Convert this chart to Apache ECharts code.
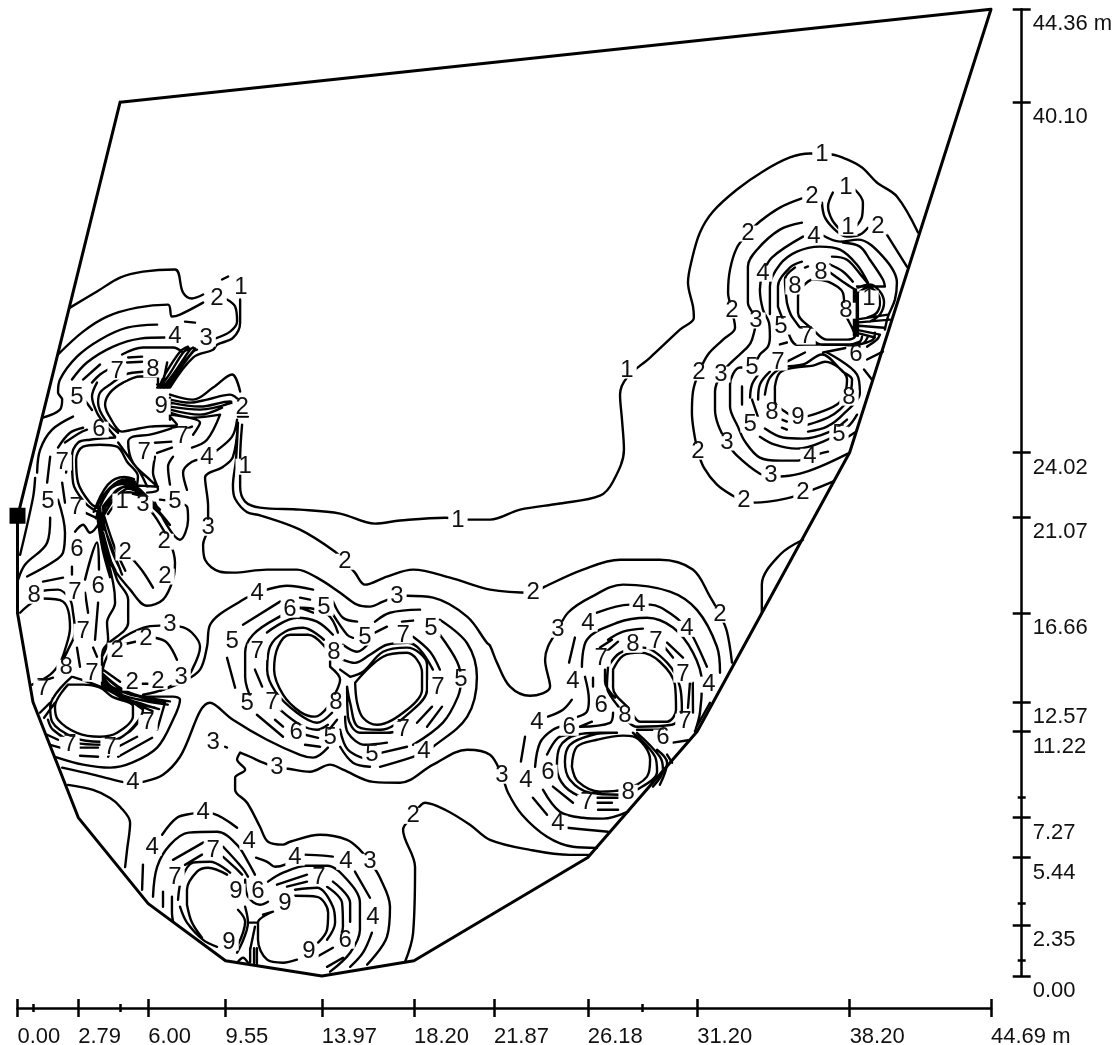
<!DOCTYPE html>
<html><head><meta charset="utf-8">
<style>html,body{margin:0;padding:0;background:#fff}#c{width:1118px;height:1045px}</style>
<script src="https://cdn.jsdelivr.net/npm/echarts@6/dist/echarts.min.js"></script>
</head><body><div id="c"></div>
<script>
// All coordinates are metres on the plot's x / y scales.
const xMax = 44.69, yMax = 44.36;
const xMajorTicks = [0,2.79,6,9.55,13.97,18.20,21.87,26.18,31.20,38.20,44.69];
const xMinorTicks = [0.71,4.71,28.70];
const yMajorTicks = [0,2.35,5.44,7.27,11.22,12.57,16.66,21.07,24.02,40.10,44.36];
const yMinorTicks = [0.70,3.32,8.22];
const boundary = [[4.71,40.10,44.69,44.36,38.20,24.02,31.20,11.22,26.18,5.44,18.20,0.70,13.97,0,9.55,0.70,6,3.32,2.79,7.27,0.71,12.57,0,16.66,0,21.07,4.71,40.10]];
const stationMark = [[0,21.12]];

const contoursNE = [
[41.34,34.12,40.37,35.77,39.45,36.41,38.77,37.10,38.08,37.47,37.39,37.70,36.38,37.74,35.46,37.56,34.22,36.92,33.03,36.09,31.93,35.08,31.33,34.12,30.96,32.88,30.78,31.82,31.01,30.72,31.05,30.21,30.41,29.66,29.04,28.38,27.98,27.46,27.66,26.68,27.75,25.53,27.84,24.15,27.34,22.69,26.74,22.04,24.90,21.68,23.07,21.40,21.69,20.94,20.77,20.94,19.63,21.03,17.56,20.90,16.41,20.76,14.81,21.22,12.97,21.40,11.13,21.49,10.45,21.77,10.22,22.46,10.22,23.70,10.31,25.30],
[38.44,36.09,38.81,35.49,38.77,34.85,38.44,34.34],
[37.43,35.95,37.21,35.31,37.39,34.71,37.76,34.25],
[36.93,35.49,37.07,34.80,37.62,34.16,38.08,33.93,38.67,34.02,39.04,34.34],
[39.91,34.02,40.83,32.55],
[36.01,35.68,35.0,35.26,34.08,34.62,33.53,34.07,33.03,33.43,32.71,32.42,32.62,31.36,32.80,30.54,32.94,29.75,32.39,29.2,31.70,28.52,31.28,27.69,31.01,26.82,30.96,25.85,31.05,24.98,31.24,24.06,31.51,23.33,32.11,22.55,32.84,22.04,33.35,21.81,33.85,21.72,35.46,21.95,36.06,22.18,36.52,22.32,37.43,22.69],
[36.01,34.57,35,34.25,33.95,33.33,33.53,32.55,33.53,30.90,33.90,30.08,33.72,29.20,33.53,28.88,32.80,28.19,32.29,27.60,32.02,26.82,32.02,25.99,32.16,25.30,32.57,24.48,33.03,23.88,34.08,23.05,34.59,22.96,35.0,22.92,35.92,23.05,36.84,23.37,38.12,23.97],
[36.06,33.93,34.63,32.97,34.22,32.23,34.08,31.50,34.22,30.58,34.50,29.98,34.54,29.34,34.45,28.88,34.08,28.52,33.72,27.92,33.17,27.92,32.71,27.14,32.71,26.13,33.07,25.21,33.40,24.52,34.08,23.79,35,23.65,35.83,23.65,36.38,23.83,36.84,23.97,37.21,24.06],
[36.98,33.98,37.76,33.70,38.58,33.79,39.73,33.01,40.37,31.82,40.28,31.04,39.96,30.26,39.82,29.66],
[37.89,33.66,38.67,33.47,39.13,32.87,39.73,31.96,39.82,31.64,38.54,31.64],
[34.54,30.38,34.54,31.64,35,32.65,35.78,33.24,36.84,33.47,37.76,33.33,38.54,32.64,39.04,31.82],
[34.91,30.72,34.91,31.64,35.46,32.51,36.01,32.78],
[37.39,33.01,38.08,32.87,38.77,32.10,39.0,31.82],
[35.32,30.90,35.23,31.96,35.69,32.51],[36.15,32.51,36.29,32.56],
[37.30,32.65,37.89,32.33,38.35,31.86],
[37.30,32.28,37.89,31.86,38.44,31.50],
[36.01,31.59,36.52,31.96,37.21,31.86,37.89,31.36,37.99,30.44,38.35,29.66,38.44,29.34,38.08,29.20,37.16,29.20,36.52,29.66,35.83,30.44,35.83,31.18,36.01,31.59],
[35.32,30.90,35.55,30.26,36.24,29.43,36.93,28.97,38.08,28.97,38.67,29.11,38.77,29.34],
[34.91,30.72,35.23,29.93,35.78,28.97,36.84,28.98,37.62,28.98,38.77,29.02,39.04,29.34],
[36.98,28.61,38.67,28.98,39.27,29.20,39.36,29.52],
[39,28.88,39.45,29.2,39.59,29.43],
[39,28.29,39.73,28.65],
[38.67,31.41,39.04,31.59,39.45,31.36,39.59,30.90,39.45,30.44,39,30.21],
[38.58,31.59,39.13,31.73,39.59,31.41,39.78,30.90,39.59,30.35,39.13,30.03],
[38.49,31.50,38.49,29.38],[38.58,31.36,38.58,29.38],[38.40,31.50,38.40,29.38],
[38.49,30.12,39.96,30.35],[38.49,29.98,40.05,30.12],[38.49,29.85,39.78,29.75],[38.49,29.66,39.59,29.43],[38.49,29.52,39.36,29.30],
[34.77,27.05,35,27.69,35.69,27.92,36.52,28.01,37.07,28.19,38.08,27.37,37.99,26.77,37.62,26.22,36.52,25.76,35.83,25.62,35.23,25.90,34.77,26.36,34.77,27.05],
[34.31,26.68,34.54,27.46,35.14,27.92,36.06,28.06,36.93,28.52,37.89,27.73,38.31,27.37,38.17,26.54,37.76,26.0,37.21,25.63,36.29,25.30],
[34,26.45,34.08,27.14,34.54,27.73],
[35.32,28.19,36.15,28.61],
[37.16,28.61,38.54,27.60,38.67,26.77,37.89,25.76,37.16,25.21,36.29,24.98],
[33.63,26.54,33.72,27.14,34.08,27.69],
[33.26,27.05,33.26,26.22],
[34.31,25.12,35.14,24.71,36.06,24.66,37.30,24.98,38.08,25.53],
[34.08,24.75,34.77,24.38,35.78,24.20,36.98,24.52,38.12,25.21,38.54,25.76],
[35.09,25.16,35.32,25.07],[35.09,25.53,35.32,25.44],
[38.08,24.71,38.44,24.94],[35,28.98,35.32,29.07],
[33.72,26.45,34,25.63],[38.86,27.83,39.22,27.37],
[36.06,20.02,35,19.33,34.17,17.96,34.17,16.66]
];

const contoursNW = [
[2.41,30.67,3.65,31.41,4.71,32.05,5.76,32.32,7.23,32.42,7.60,31.36,8.01,31.09,8.52,31.27],
[9.39,31.96,9.67,32.10],
[10.22,31.04,10.22,29.98,9.89,29.28,9.16,28.97,8.98,28.74,8.06,28.38,7,27.0],
[9.62,31.04,9.99,30.72,10.08,30.03,9.76,29.57,9.07,29.25],
[1.86,28.52,3.01,29.57,4.11,30.26,5.49,30.67,6.91,30.81,7.09,30.26,7.46,30.35,8.52,30.90],
[1.17,25.62,1.95,25.99,2.05,26.45,1.86,26.77,1.95,27.37,2.73,28.42,3.79,29.20,5.03,29.75,6.41,29.89],
[7.69,30.03,8.15,29.98],
[2.50,27.37,3.19,28.15,4.39,28.88,5.63,29.25,6.77,29.30],
[3.01,27.37,3.79,28.06],[4.80,28.52,5.76,28.84,7.14,28.84,7.60,28.61],
[3.42,27.23,3.79,27.60,4.16,27.83],
[5.08,28.38,5.72,28.42],[5.03,28.15,5.72,28.19],
[6.41,27.51,5.63,27.51,4.85,27.23,4.25,26.77,4.02,26.22,4.25,25.62,4.80,24.98,5.30,25.07,6.08,25.21,7.32,25.30,7.0,25.67],
[5.76,27.73,4.94,27.60,4.25,27.14,3.79,26.77,3.70,26.31,4.02,25.53,4.62,24.93],
[3.65,27.23,3.42,26.59,3.65,25.85,4.03,25.30,4.48,24.75],
[3.01,26.54,3.42,25.97],
[6.50,27.0,6.77,27.60,7.46,28.65,7.83,28.88],
[6.68,27.0,7.23,27.73,7.92,28.74,8.06,28.84],
[6.87,27.0,7.37,27.73,8.06,28.65,8.24,28.74],
[6.55,27,7.0,27.65,7.6,28.6,7.9,28.8],[6.75,27,7.3,27.75,8.0,28.6,8.15,28.8],
[6.45,28.15,6.45,27.0],[6.64,27,6.87,28.15],
[6.41,27,7.0,27],[6.41,27.14,7.0,27.14],
[7.0,26.68,8.06,26.45,8.98,27.0,9.85,27.60,10.22,26.82],
[7,26.45,7.92,26.31,8.70,26.45,9.76,26.68,10.22,26.36],
[7,26.31,8.38,26.13,9.76,26.36,10.08,25.99],
[7,26.13,8.38,25.99,9.85,26.31],
[7,25.99,8.38,25.76,9.39,26.08],
[7,25.85,8.06,25.62,9.30,25.76,8.70,24.61,8.01,24.25],
[7,25.76,8.38,25.39,8.06,24.84],
[7,26.54,7,25.53],
[10.12,25.67,10.58,25.67],
[10.12,25.39,10.03,23.70,9.89,22.50,9.99,21.90,10.54,21.28,11.13,21.14,12.97,20.48,14.58,19.47,15.03,19.01,15.49,18.51,15.95,17.96,16.96,18.33,18.16,18.65,19.86,18.28,21.69,17.73,23.67,17.59,24.21,17.87,25.96,18.65,27.66,19.10,29.49,19.10,31.0,18.65,31.79,17.41,32.25,16.58,32.57,15.80,32.80,14.38],
[10.12,25.39,9.89,23.82,9.44,23.37,8.61,22.87,8.75,21.54,8.75,20.57,8.52,19.79,8.61,19.10,9.30,18.55,9.89,18.51,11.45,18.65,12.83,18.65,13.75,18.28,14.81,17.59,15.59,17.04,16.18,16.95,16.78,17.18,17.42,17.41,17.88,17.45,19.08,17.36,20.64,16.49,21.55,15.29,21.69,15.16,22.01,14.38,22.61,13.28,23.53,12.86,24.45,13.28,24.22,14.51,24.35,15.11,24.81,15.89,25.27,16.67,26.28,17.36,27.80,17.96,29.95,17.64,31.19,16.80,32.11,15.11,32.25,13.92],
[10.08,25.53,9.85,24.75,9.07,24.05,8.70,23.79,8.01,23.60,7.60,23.10,7.78,22.31],
[7.14,23.83,6.91,23.37,7.0,22.55],
[6.41,24.0,7.09,24.25],[6.31,24.47,7.09,24.52],[7.69,25.07,8.01,25.21],
[7.32,25.21,6.08,24.84,5.30,24.75,5.08,24.52,5.30,23.56,6.08,22.77,6.45,22.45,5.63,22.50],
[6.31,23.83,6.22,23.10,6.45,22.32,5.95,22.18],
[5.49,22.55,5.53,22.92,5.03,23.60,4.57,24.29,3.79,24.38,3.01,24.29,2.69,23.70,2.78,22.64,3.33,21.72,3.79,21.40],
[4.48,24.71,3.33,24.61,2.78,24.48,2.50,23.83,2.55,22.64,3.10,21.72,3.65,21.31],
[4.62,24.48,5.26,23.60,5.63,23.10,5.95,22.46],
[2.18,24.48,2.87,24.93,3.19,25.07],[1.86,24.25,2.41,24.93,3.01,25.16],
[0.90,23.10,1.04,24.15,1.59,25.07,2.55,25.67],
[1.50,23.83,1.36,22.64],[2.05,22.64,2.18,21.72],[2.32,23.83,2.23,23.10],
[3.79,21.56,4.39,22.50,5.03,22.69,5.49,22.55],
[3.93,21.56,4.48,22.18,5.03,22.50,5.63,22.50],
[3.65,21.56,4.25,22.41,4.94,22.78,5.39,22.69],
[4.07,21.56,4.62,22.09,5.08,22.36,5.76,22.09],
[3.5,21.3,4.15,22.55,4.9,22.9,5.35,22.8],[3.6,21.0,4.2,22.3,5.0,22.6,5.6,22.35],[4.0,21.2,4.55,22.0,5.1,22.2,5.85,21.95],[3.9,21.2,4.5,22.25,5.05,22.45,5.7,22.2],[4.15,21.2,4.7,21.9,5.15,22.15,5.95,21.85],
[3.79,21.56,3.88,20.48],[3.70,21.56,3.79,20.48],[3.93,21.56,3.98,20.48],
[3.75,21.2,4.1,19.5,4.5,18.6],[3.85,21.2,4.3,19.6,4.7,18.7],[3.95,21.2,4.45,19.7,4.95,18.6],[3.65,21.2,3.9,19.6,4.25,18.3],
[5.30,22.36,6.68,21.08],[5.63,22.32,6.54,21.40],[5.76,22.09,6.77,20.94],[6.08,21.72,6.68,21.08],[5.5,22.3,6.3,21.5,6.9,20.8],[5.85,21.95,6.5,21.3,7.0,20.7],
[6.31,21.72,7.46,20.02,7.83,20.94,7.78,21.54,6.54,21.86],
[3.88,20.48,4.25,18.97,5.17,17.73,5.95,16.99,6.68,17.27,7.14,18.19,7.23,18.97,7.0,19.89,6.41,20.94,6.08,21.40],
[5.30,19.11,5.76,18.55,6.22,17.82],
[3.93,20.34,4.57,18.19,5.08,17.27,5.08,16.21,3.93,14.97,3.88,14.51],
[3.79,20.48,4.39,18.05,4.48,17.13,4.11,16.21,4.16,15.43,3.88,14.65],
[3.70,20.94,4.16,18.65],[4.02,20.48,4.80,18.42],
[0.81,22.86,0.71,21.94,0.12,19.33],
[1.50,21.03,1.36,19.88,0.35,18.88,0.03,18.19],
[1.86,21.86,2.18,20.34,2.09,19.43,1.59,18.97,0.44,18.33],
[2.64,20.39,3.01,20.71,3.33,20.34,3.79,20.85],[3.10,21.26,3.79,20.94],
[2.50,18.78,2.50,18.42],
[3.10,18.19,3.65,19.89,3.74,18.65],
[1.17,18.10,2.09,18.28],
[1.17,17.68,1.86,17.73,2.41,17.27,2.55,16.67,2.64,15.80,2.32,14.97,2.09,14.51],
[0.12,16.67,1.13,17.32,2.09,17.18,2.41,15.98,2.18,14.97,1.95,14.38,1.50,13.83,0.67,13.37],
[3.10,17.59,3.24,16.67],[3.70,17.13,3.56,15.43],[2.73,15.07,2.87,14.19],[3.47,15.07,3.65,14.65],
[0.67,13.37,1.63,13.69],
[2.32,13.37,1.72,12.36,1.86,11.76,2.73,11.16,3.79,10.98,4.57,11.16,5.30,11.92,5.30,12.38,4.34,12.82,3.79,13.23,3.01,13.37,2.32,13.37],
[2.50,13.74,1.50,12.36,1.59,11.67,2.64,10.93,3.79,10.75,4.71,10.93,5.40,11.53,5.76,12.22,4.94,12.68,4.11,13.14,3.19,13.51,2.50,13.74],
[1.40,11.76,1.63,11.30,2.64,10.71,3.93,10.61,5.08,11.17,5.63,11.76],
[1.03,12.08,1.50,12.54],[1.22,11.85,1.72,12.54],
[6.77,12.54,6.41,11.30],[5.76,12.23,4.48,13.14],
[3.93,13.72,4.39,13.23,5.76,12.82,7.14,12.82,7.46,12.68,7.14,11.76,6.41,10.48,5.26,9.79,4.25,9.56,3.01,9.70,1.72,10.06],
[3.88,13.37,4.94,12.68,6.31,12.31],[3.93,13.83,4.94,13.05,6.77,12.54],[3.88,14.74,3.88,13.37],
[3.88,13.7,4.6,13.0,5.5,12.7,6.9,12.45],[3.88,13.55,4.6,12.9,5.5,12.55,6.5,12.25],[3.9,13.45,4.7,12.8,5.5,12.45,6.2,12.15],[3.88,13.9,4.75,13.2,5.6,12.85,7.0,12.6],
[3.93,14.05,4.71,13.50],
[8.06,14.15,8.38,15.11,8.01,15.75,7.46,16.03,6.54,16.08,5.76,15.98,4.71,15.43,4.11,14.65,3.88,13.92],
[8.06,14.15,7.78,13.73,6.68,13.14,5.76,12.91],
[4.80,15.20,5.40,15.34],[6.31,15.52,6.87,15.29,7.32,14.51],[5.72,13.41,6.0,13.41],
[2.05,9.56,3.47,9.24,4.80,8.91,5.30,8.87,5.76,8.91,6.68,9.24,7.46,10.06,8.84,12.54,9.89,11.76,11.45,10.84,12.97,10.15,13.57,10.02,14.25,10.48],
[2.32,8.77,3.47,8.54,4.25,8.17,4.71,7.77,5.17,7.03,5.03,5.79,4.94,5.0],
[1.36,11.07,1.86,10.84],[2.87,10.48,3.70,10.48],[2.87,10.11,3.70,10.06],[4.16,10.06,4.48,10.71],[4.62,10.52,5.49,10.98],[4.62,10.06,6.18,10.93],[1.50,10.61,1.95,10.48],
[9.53,10.52,9.62,10.48]
];

const contoursCentre = [
[6.54,13.09,7.60,13.51,8.38,14.06,8.70,15.11,8.84,16.12,10.35,17.27,11.0,17.54,11.45,17.73,12.37,17.91,13.57,17.73],
[14.49,17.18,14.94,16.44,15.59,16.26],[14.49,16.58,15.13,15.66,15.40,15.52],
[14.35,14.19,14.81,13.59,14.71,13.23,14.25,12.36,13.66,11.90,12.97,12.13,12.19,12.91,11.78,14.06,11.96,15.11,12.51,15.66,13.34,15.66,14.03,15.20,14.35,14.51,14.35,14.19],
[14.07,15.43,13.11,15.98,12.28,15.80,11.59,15.11,11.46,14.06,11.84,13.05,12.83,12.08,13.75,11.62,14.44,12.08],
[14.48,15.66,13.75,16.26,12.83,16.44,11.45,15.76],[10.90,14.06,11.23,13.28],[12.05,12.22,12.97,11.53,13.75,11.30,14.25,11.53],
[14.71,15.76,14.25,16.58,13.11,16.90,11.87,16.40,10.81,15.66,10.45,14.84,10.45,13.73,10.81,12.54],
[12.05,17.18,10.35,16.12],[9.62,14.60,9.99,13.23],[10.99,11.99,12.19,10.98],[11.82,11.76,12.19,11.44],
[13.20,11.07,13.80,10.93],[13.20,10.61,13.89,10.52],[14.67,11.76,14.12,11.07],
[12.97,17.36,13.43,17.27],[12.97,16.90,13.57,16.67],
[15.50,13.46,16.78,14.65,17.88,14.83,18.57,13.92,18.57,13.14,17.88,12.22,16.50,11.53,15.86,11.85,15.59,12.54,15.50,13.46],
[15.27,13.73,15.86,13.96,16.78,14.88,17.88,15.07,18.80,14.29,18.80,13.14,18.16,12.22,16.64,11.30,15.63,11.44,15.27,12.54,15.13,13.28],
[14.81,14.06,15.27,13.73],
[14.94,14.51,15.49,14.37,16.18,14.74,16.96,15.20,17.93,15.29,18.48,14.97,19.07,14.06],
[19.03,12.36,18.34,11.62],[15.13,13.23,15.17,11.90,15.72,11.16,16.96,11.16,17.70,11.30],
[14.94,15.20,15.59,14.88,16.18,15.34],[16.41,15.76,16.96,16.03],
[18.16,15.57,18.94,14.88,19.39,14.06],[19.49,12.36,18.80,11.44],
[15.04,11.90,15.17,11.16,15.95,10.61,16.96,10.71],
[17.65,16.26,18.16,16.31],[16.41,16.26,17.10,16.67,18.48,16.81],
[19.39,15.66,20.18,14.42,20.36,13.59,20.22,12.82,19.53,11.63,18.16,10.61],
[14.81,11.30,15.17,10.38,16.05,9.93],[16.73,10.25,17.88,10.52],
[19.39,16.35,20.64,15.27,21.09,13.72,20.64,11.89,19.08,10.52,18.66,10.29,18.16,10.06,16.64,9.60],
[14.81,10.52,15.40,9.79,16.18,9.60],
[10.22,10.25,10.08,9.93,10.45,9.47,9.99,9.10,9.99,8.55,10.54,7.95,11.13,6.85,11.50,6.16,12.19,6.03,12.51,6.16,13.89,6.48,15.13,6.25,15.72,5.79,16.18,5.24,16.64,4.51,17.10,3.18,16.96,1.80,16.05,0.52],
[10.22,10.25,10.68,10.06,11.27,9.79,11.91,9.56,12.42,9.51,13.43,9.37,14.35,9.70,14.94,9.47,16.33,8.91,17.56,8.87,19.08,9.70,20.64,10.38,21.69,10.15,22.24,9.19,22.52,8.41,23.16,7.40,24.31,6.39,25.50,5.93,26.6,5.88],
[17.79,0.64,18.16,1.97,18.25,5.0,17.70,6.71,18.16,7.35,18.71,7.95,19.63,7.63,20.77,6.94,21.69,6.25,23.53,5.79,25.36,5.56,26.28,5.56]
];

const contoursSE = [
[27.34,14.06,27.80,14.70,28.58,14.84,29.49,14.42,30.18,13.37,30.23,12.22,29.82,11.67,28.58,11.67,28.12,12.22,27.34,13.23,27.34,14.06],
[27.11,14.19,27.66,14.83,28.72,15.07,29.82,14.38,30.41,13.28,30.50,12.22,30.04,11.53,28.44,11.44,27.52,12.45,27.06,13.28,27.11,14.19],
[28.44,11.30,29.63,11.30],
[26.88,14.75,27.57,15.34],[26.97,14.06,26.97,13.51,27.43,12.77],[26.42,13.69,26.42,13.28],
[27.11,15.43,27.80,15.80,28.71,15.94],[26.74,15.07,27.29,15.43],
[29.82,15.30,30.55,14.61],[30.87,13.46,30.78,12.31],[31.0,13.46,31.01,12.08],[29.72,15.07,30.09,14.61],
[25.91,14.19,26.14,15.43,27.52,16.21,28.90,16.44,30.09,15.99,31.01,14.84,31.42,13.46,31.33,12.08,31.10,11.21],
[26.05,13.73,26.23,12.68,26.14,12.13,25.73,11.90],
[27.34,12.08,27.20,11.62,25.82,11.44],
[26.60,16.67,28.12,17.04,28.53,17.04,29.04,17.04,30.18,16.49,30.73,15.93,31.01,15.57,31.65,14.19],
[25.59,15.53,25.32,14.38],[25.45,12.68,25.04,12.22,24.35,11.90],
[23.30,10.98,23.11,9.84],[23.66,8.18,24.31,7.40],[25.23,6.80,26.14,6.71,27.11,6.62],
[25.45,9.60,25.68,10.52,26.60,10.84,27.80,11.03,28.25,11.0,29.04,9.93,28.90,9.15,27.80,8.55,26.74,8.46,25.73,8.92,25.45,9.60],
[27.34,11.16,26.42,11.07,25.36,10.61,25.13,9.83,25.36,9.01,26.28,8.41,27.66,8.32,28.44,8.55,29.36,9.37,29.27,10.06,28.25,11.16],
[27.52,11.16,26.74,11.16,25.68,11.07,24.90,10.52,24.76,9.60,25.13,8.69,26.14,8.09],[26.60,8.18,27.66,8.18],
[24.31,10.16,24.81,10.93,25.36,11.07],[24.58,8.69,25.50,7.95],[26.60,7.95,27.29,7.95],[26.65,7.63,27.57,7.63],
[23.76,9.60,23.99,10.71,24.58,11.30,25.23,11.53],[25.82,11.44,26.37,11.67],
[24.12,8.55,24.90,7.54,25.96,7.26,26.88,7.22,28.03,7.54],
[28.44,11.16,29.49,10.06,29.63,9.47,29.17,8.69],
[29.36,10.38,29.82,9.79,29.49,8.78],
[30.09,10.71,30.78,10.82],[29.82,10.16,30.05,9.79],[31.79,12.54,31.10,11.30]
];

const contoursS = [
[6.64,6.48,7.32,7.26,8.01,7.45,8.52,7.49,8.98,7.45,10.08,6.80],
[10.95,5.43,11.46,5.24,11.82,5.01,12.28,5.11,12.74,5.43,13.11,5.57,14.48,5.48],
[15.49,4.79,16.18,3.59],[16.27,1.99,15.86,1.07,15.27,0.42],
[5.76,5.11,5.72,3.96],
[6.22,3.64,6.41,5.01,7.0,6.02,7.86,6.58,9.16,6.62,10.08,6.02,10.58,5.24,10.90,4.65],
[11.50,4.33,12.19,4.74,13.29,5.06,14.21,5.06,15.13,4.42,15.72,3.36,15.72,2.12,15.27,1.07,14.35,0.20],
[6.68,3.87,6.68,3.18],
[7.14,5.33,8.52,6.12],[7.69,5.10,8.47,5.57],
[9.44,5.93,10.31,4.97,10.58,4.56],[9.44,5.47,9.99,4.97,10.31,4.65],
[7.09,3.64,7.09,2.90,7.14,2.49],
[7.37,3.50,7.55,4.51,8.06,5.20,8.84,5.24,9.76,4.74],
[7.78,3.27,7.78,3.96,8.24,4.79,8.75,4.97,9.62,4.65],
[7.78,3.27,8.01,2.45,8.47,1.76],
[7.46,3.18,7.78,2.45,8.52,1.66,9.16,1.34],
[10.45,4.42,10.58,3.64,11.13,3.27,11.50,3.41],
[11.91,4.19,13.29,4.65],[12.37,4.10,13.29,4.33],
[12.74,3.96,13.75,4.05,14.48,3.18,14.58,2.45,14.21,1.66],
[12.74,3.68,13.75,3.63,14.26,2.90,14.21,2.12,13.80,1.53],
[14.21,4.10,14.90,3.36,14.94,2.26,14.67,1.53],
[14.48,4.33,15.27,3.36,15.27,2.49],
[13.75,0.88,14.48,1.30],[14.21,0.42,14.94,0.84],
[11.73,2.95,11.04,2.45,11.04,1.66,11.46,0.75,12.19,0.61,12.83,0.75],
[10.12,3.04,10.45,2.49,10.08,1.34],[10.45,3.18,10.58,2.45,10.08,1.07],
[10.58,2.45,10.99,2.45],[10.90,2.26,10.68,1.21],
[10.68,1.28,10.68,0.64],[10.86,1.28,10.86,0.60],[10.99,1.28,10.99,0.55],
[10.12,0.65,10.35,0.84,10.58,0.61],[11.27,2.81,11.73,2.95]
];

const labelsNE = [[36.93,37.70,1],[38.03,36.18,1],[38.12,34.34,1],[36.47,35.77,2],[39.50,34.39,2],[33.53,34.07,2],[36.56,33.93,4],[34.22,32.23,4],[36.88,32.28,8],[35.69,31.64,8],[38.03,30.53,8],[39.09,31.09,1],[32.80,30.54,2],[33.90,30.08,3],[35.05,29.80,5],[36.20,29.34,7],[38.49,28.52,6],[31.28,27.69,2],[32.29,27.60,3],[33.72,27.92,5],[34.91,28.15,7],[38.17,26.54,8],[34.63,25.85,8],[35.83,25.62,9],[33.63,25.30,5],[37.71,24.84,5],[32.57,24.48,3],[36.38,23.83,4],[31.24,24.06,2],[34.59,22.96,3],[33.35,21.81,2],[36.06,22.18,2],[27.98,27.78,1],[20.22,20.90,1]];
const labelsNW = [[9.16,31.09,2],[10.26,31.59,1],[7.23,29.34,4],[8.66,29.25,3],[4.57,27.73,7],[6.22,27.83,8],[2.73,26.54,5],[6.59,26.13,9],[10.31,26.08,2],[7.55,24.75,7],[3.74,25.07,6],[5.81,24.02,7],[8.70,23.79,4],[10.45,23.37,1],[2.05,23.56,7],[7.23,21.77,5],[1.40,21.77,5],[2.69,21.49,7],[4.80,21.77,1],[5.76,21.63,3],[2.73,19.57,6],[4.94,19.43,2],[6.73,19.93,2],[6.77,18.33,2],[8.75,20.57,3],[3.70,17.87,6],[2.64,17.59,7],[0.76,17.45,8],[3.01,15.80,7],[7.0,16.12,3],[5.90,15.48,2],[4.57,14.93,2],[2.23,14.15,8],[3.42,13.87,7],[5.26,13.46,2],[6.45,13.51,2],[7.51,13.69,3],[1.17,13.19,7],[5.99,11.62,7],[2.41,10.61,7],[4.25,10.48,7],[5.30,8.87,4],[8.98,10.71,3]];
const labelsCentre = [[11.0,17.54,4],[12.51,16.81,6],[14.07,16.90,5],[17.42,17.41,3],[15.95,15.53,5],[17.70,15.62,7],[18.98,15.94,5],[9.85,15.34,5],[11.0,14.88,7],[14.53,14.84,8],[20.36,13.60,5],[19.30,13.23,7],[14.62,12.54,8],[10.54,12.50,5],[11.68,12.54,7],[12.79,11.17,6],[14.35,10.94,5],[17.70,11.30,7],[16.27,10.16,5],[18.66,10.29,4],[11.91,9.56,3],[15.03,19.01,2],[23.67,17.59,2]];
const labelsSE = [[32.25,16.58,2],[24.81,15.89,3],[28.53,17.04,4],[26.19,16.17,4],[30.73,15.93,4],[28.25,15.20,8],[29.31,15.34,7],[26.79,14.56,7],[30.55,13.83,7],[25.50,13.51,4],[31.74,13.37,4],[26.79,12.40,6],[27.89,11.95,8],[30.64,11.67,7],[23.85,11.62,4],[25.32,11.39,6],[29.63,10.94,6],[24.35,9.33,6],[23.34,8.96,4],[22.24,9.19,3],[28.03,8.41,8],[26.14,7.95,7],[24.81,6.99,4]];
const labelsS = [[8.52,7.49,4],[6.18,5.89,4],[10.63,6.16,4],[8.98,5.75,7],[7.23,4.51,7],[12.74,5.43,4],[15.08,5.24,4],[16.18,5.24,3],[13.84,4.51,7],[10.03,3.87,9],[11.04,3.87,6],[12.28,3.32,9],[16.32,2.67,4],[15.04,1.62,6],[9.71,1.53,9],[13.38,1.11,9],[18.16,7.35,2]];

const FONT = '"Liberation Sans", Arial, sans-serif';
const INK = '#111';
function pairs(polys){
  const out=[];
  polys.forEach(f=>{for(let i=0;i<f.length;i+=2)out.push([f[i],f[i+1]]);out.push([null,null]);});
  return out;
}
function lineSeries(polys,smooth,width,z){
  return {type:'line',data:pairs(polys),showSymbol:false,symbol:'none',smooth:smooth,clip:false,silent:true,animation:false,connectNulls:false,z:z,
    lineStyle:{color:'#000',width:width,join:'round',cap:'round'},xAxisIndex:0,yAxisIndex:0};
}
function xAx(ticks,len,inside,primary){
  return {type:'value',min:0,max:xMax,position:'bottom',offset:32,splitLine:{show:false},
    axisLine:{show:primary,onZero:false,lineStyle:{color:'#000',width:2.5}},
    axisTick:{show:true,customValues:ticks,length:len,inside:inside,lineStyle:{color:'#000',width:2.5}},
    axisLabel:primary?{show:true,customValues:xMajorTicks,margin:18,align:'left',color:INK,fontFamily:FONT,fontSize:22,hideOverlap:false,
      formatter:v=>v.toFixed(2)+(v===xMax?' m':'')}:{show:false}};
}
function yAx(ticks,len,inside,primary){
  return {type:'value',min:0,max:yMax,position:'right',offset:30.7,splitLine:{show:false},
    axisLine:{show:primary,onZero:false,lineStyle:{color:'#000',width:2.5}},
    axisTick:{show:true,customValues:ticks,length:len,inside:inside,lineStyle:{color:'#000',width:2.5}},
    axisLabel:primary?{show:true,customValues:yMajorTicks,margin:11,align:'left',verticalAlign:'top',padding:[4,0,0,0],color:INK,fontFamily:FONT,fontSize:22,hideOverlap:false,
      formatter:v=>v.toFixed(2)+(v===yMax?' m':'')}:{show:false}};
}
const chart = echarts.init(document.getElementById('c'),null,{renderer:'canvas'});
chart.setOption({
  animation:false,backgroundColor:'#fff',
  grid:{left:17.5,top:9.3,width:973.5,height:966.7,containLabel:false,outerBoundsMode:'none'},
  xAxis:[xAx(xMajorTicks,9,false,true),xAx(xMajorTicks,9,true,false),xAx(xMinorTicks,4,false,false),xAx(xMinorTicks,4,true,false)],
  yAxis:[yAx(yMajorTicks,9,false,true),yAx(yMajorTicks,9,true,false),yAx(yMinorTicks,4,false,false),yAx(yMinorTicks,4,true,false)],
  series:[
    lineSeries(contoursNE,0.35,2.4,3),lineSeries(contoursNW,0.35,2.4,3),lineSeries(contoursCentre,0.35,2.4,3),lineSeries(contoursSE,0.35,2.4,3),lineSeries(contoursS,0.35,2.4,3),
    {type:'scatter',data:[].concat(labelsNE,labelsNW,labelsCentre,labelsSE,labelsS),symbolSize:1,clip:false,silent:true,z:4,
      itemStyle:{color:'transparent',opacity:1},
      label:{show:true,position:'inside',formatter:p=>String(p.value[2]),fontFamily:FONT,fontSize:24,color:'#111',backgroundColor:'#fff',padding:[-2,3,-2,3],lineHeight:20}},
    lineSeries(boundary,false,3,5),
    {type:'scatter',data:stationMark,symbol:'rect',symbolSize:16,clip:false,silent:true,z:6,itemStyle:{color:'#000',opacity:1}}
  ]
});
</script></body></html>
